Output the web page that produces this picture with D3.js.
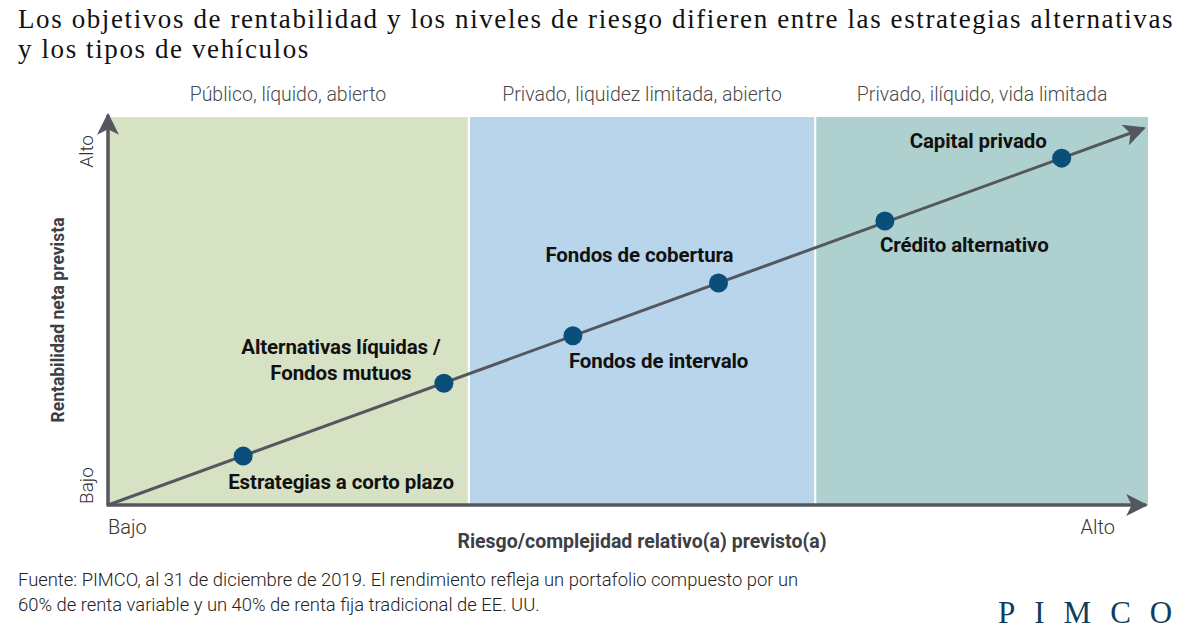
<!DOCTYPE html>
<html>
<head>
<meta charset="utf-8">
<script src="https://cdn.jsdelivr.net/npm/d3@7"></script>
<style>
  body { margin: 0; background: #fff; }
  svg text { font-family: Roboto, "Liberation Sans", sans-serif; }
</style>
</head>
<body>
<svg id="chart" width="1200" height="630"></svg>
<script>
// Bands along the risk axis
var bandNames = ["Público, líquido, abierto", "Privado, liquidez limitada, abierto", "Privado, ilíquido, vida limitada"];
var bandStart = [0, 3.48, 6.81];
var bandEnd = [3.46, 6.79, 10];
var bandColors = ["#d7e2c5", "#b8d5eb", "#aed0cf"];

// Strategies: risk (x) and return (y), 0-10 scale
var names = ["Estrategias a corto plazo", "Alternativas líquidas /\nFondos mutuos", "Fondos de intervalo", "Fondos de cobertura", "Crédito alternativo", "Capital privado"];
var risk = [1.30, 3.23, 4.47, 5.87, 7.47, 9.17];
var ret = [1.26, 3.14, 4.36, 5.72, 7.32, 8.94];

var svg = d3.select("#chart"),
    width = +svg.attr("width"),
    height = +svg.attr("height");

var margin = {left: 108, right: 52, top: 117, bottom: 125};

var x = d3.scaleLinear().domain([0, 10]).range([margin.left, width - margin.right]);
var y = d3.scaleLinear().domain([0, 10]).range([height - margin.bottom, margin.top]);

// Title
var titleLines = ["Los objetivos de rentabilidad y los niveles de riesgo difieren entre las estrategias alternativas", "y los tipos de vehículos"];
svg.append("g").selectAll("text")
  .data(titleLines)
  .enter()
  .append("text")
    .attr("x", 18).attr("y", function(d, i){ return 28 + i * 30 })
    .style("font-family", "'Liberation Serif', 'DejaVu Serif', serif")
    .style("font-size", "27px").style("letter-spacing", "1.6px")
    .attr("fill", "#111")
    .text(function(d){ return d });

// Background bands
svg.append("g").selectAll("rect")
  .data(bandNames)
  .enter()
  .append("rect")
    .attr("x", function(d, i){ return x(bandStart[i]) })
    .attr("y", y(10))
    .attr("width", function(d, i){ return x(bandEnd[i]) - x(bandStart[i]) })
    .attr("height", y(0) - y(10))
    .attr("fill", function(d, i){ return bandColors[i] });

svg.append("g").selectAll("text")
  .data(bandNames)
  .enter()
  .append("text")
    .attr("x", function(d, i){ return (x(bandStart[i]) + x(bandEnd[i])) / 2 })
    .attr("y", 101)
    .attr("text-anchor", "middle")
    .style("font-size", "19.5px").style("font-weight", 300)
    .attr("fill", "#4a4a4a")
    .text(function(d){ return d });

// Arrow marker
svg.append("defs").append("marker")
  .attr("id", "arrow")
  .attr("viewBox", "0 0 10 10")
  .attr("refX", 9).attr("refY", 5)
  .attr("markerWidth", 22).attr("markerHeight", 22)
  .attr("markerUnits", "userSpaceOnUse")
  .attr("orient", "auto")
  .append("path")
    .attr("d", "M0,0 L10,5 L0,10 L2.5,5 Z")
    .attr("fill", "#54575d");

var axisColor = "#54575d";

// Axes
svg.append("line")
  .attr("x1", x(0)).attr("y1", y(0))
  .attr("x2", x(0)).attr("y2", y(10) - 2)
  .attr("stroke", axisColor).attr("stroke-width", 3.5)
  .attr("marker-end", "url(#arrow)");
svg.append("line")
  .attr("x1", x(0) - 1.5).attr("y1", y(0))
  .attr("x2", x(10) - 2).attr("y2", y(0))
  .attr("stroke", axisColor).attr("stroke-width", 3.5)
  .attr("marker-end", "url(#arrow)");

// Trend line through the strategies, extended to the arrow tip
var slope = ret[ret.length - 1] / risk[risk.length - 1];
var endRisk = 9.96;
svg.append("line")
  .attr("x1", x(0)).attr("y1", y(0))
  .attr("x2", x(endRisk)).attr("y2", y(endRisk * slope))
  .attr("stroke", axisColor).attr("stroke-width", 3)
  .attr("marker-end", "url(#arrow)");

// Dots
svg.append("g").selectAll("circle")
  .data(names)
  .enter()
  .append("circle")
    .attr("cx", function(d, i){ return x(risk[i]) })
    .attr("cy", function(d, i){ return y(ret[i]) })
    .attr("r", 9.5)
    .attr("fill", "#0a4f79");

// Labels (offset from their dot)
var labelPos = [
  {dx: -15, dy: 33, anchor: "start"},
  {dx: -103, dy: -3, anchor: "middle"},
  {dx: -4, dy: 32, anchor: "start"},
  {dx: 15, dy: -21, anchor: "end"},
  {dx: -5, dy: 31, anchor: "start"},
  {dx: -15, dy: -10, anchor: "end"}
];
var labels = svg.append("g").selectAll("text")
  .data(names)
  .enter()
  .append("text")
    .attr("x", function(d, i){ return x(risk[i]) + labelPos[i].dx })
    .attr("y", function(d, i){ return y(ret[i]) + labelPos[i].dy })
    .attr("text-anchor", function(d, i){ return labelPos[i].anchor })
    .style("font-size", "20.5px").style("font-weight", 700)
    .style("letter-spacing", "-0.1px")
    .attr("fill", "#111");
labels.each(function(d){
  var t = d3.select(this), parts = d.split("\n");
  parts.forEach(function(p, k){
    t.append("tspan")
      .attr("x", t.attr("x"))
      .attr("dy", k === 0 ? (-(parts.length - 1) * 26) : 26)
      .text(p);
  });
});

// Axis end labels
var endStyle = function(sel, size){
  sel.style("font-size", size).style("font-weight", 300).attr("fill", "#333");
};
svg.append("text").attr("x", x(0)).attr("y", 534).call(endStyle, "20px").text("Bajo");
svg.append("text").attr("x", x(10) - 33).attr("y", 534).attr("text-anchor", "end")
  .call(endStyle, "20px").text("Alto");
svg.append("text").attr("transform", "translate(93," + (y(0) - 1) + ") rotate(-90)")
  .call(endStyle, "19px").text("Bajo");
svg.append("text").attr("transform", "translate(93," + (y(10) + 18) + ") rotate(-90)")
  .attr("text-anchor", "end")
  .call(endStyle, "19px").text("Alto");

// Axis titles
svg.append("text").attr("x", 642).attr("y", 548).attr("text-anchor", "middle")
  .style("font-size", "19.5px").style("font-weight", 700).attr("fill", "#3c3f44")
  .text("Riesgo/complejidad relativo(a) previsto(a)");
svg.append("text").attr("transform", "translate(64," + ((y(0) + y(10)) / 2 + 9) + ") rotate(-90)")
  .attr("text-anchor", "middle")
  .style("font-size", "17.5px").style("font-weight", 700).attr("fill", "#3c3f44")
  .text("Rentabilidad neta prevista");

// Footnote
var notes = ["Fuente: PIMCO, al 31 de diciembre de 2019. El rendimiento refleja un portafolio compuesto por un",
             "60% de renta variable y un 40% de renta fija tradicional de EE. UU."];
svg.append("g").selectAll("text")
  .data(notes)
  .enter()
  .append("text")
    .attr("x", 18).attr("y", function(d, i){ return 586 + i * 25 })
    .style("font-size", "18.4px").style("font-weight", 300).attr("fill", "#222")
    .text(function(d){ return d });

// Logo
svg.append("text").attr("x", 998).attr("y", 623)
  .style("font-family", "'Liberation Serif', serif")
  .style("font-size", "31px").style("letter-spacing", "19px")
  .attr("fill", "#0d3e5e")
  .text("PIMCO");
</script>
</body>
</html>
